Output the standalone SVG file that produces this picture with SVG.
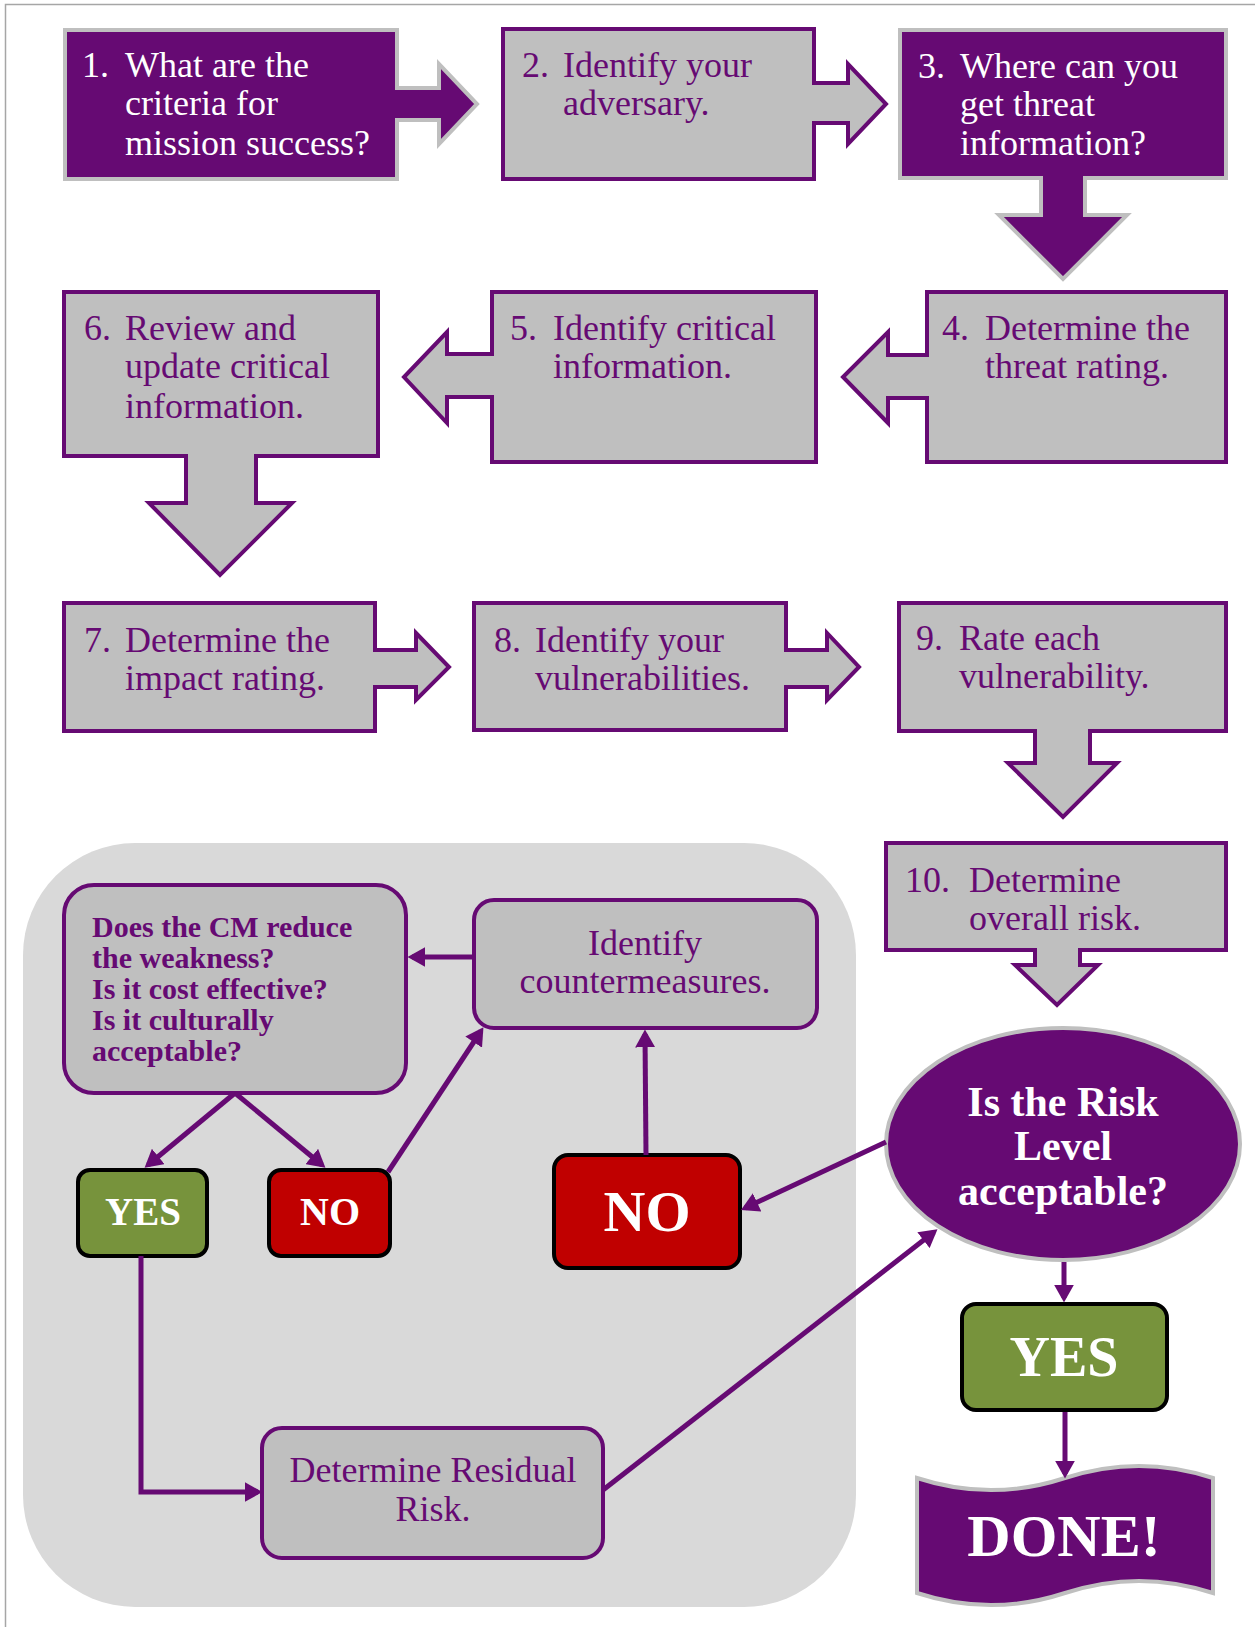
<svg xmlns="http://www.w3.org/2000/svg" width="1255" height="1627" viewBox="0 0 1255 1627">
<defs>
<marker id="ah" markerUnits="userSpaceOnUse" markerWidth="18" markerHeight="20" viewBox="0 0 16 18" refX="12" refY="9" orient="auto">
<path d="M0,0 L16,9 L0,18 Z" fill="#660A73"/>
</marker>
<style>
.pd{fill:#660A73;stroke:#BFBFBF;stroke-width:4;stroke-linejoin:miter}
.gy{fill:#BFBFBF;stroke:#660A73;stroke-width:4;stroke-linejoin:miter}
.rb{fill:#BFBFBF;stroke:#660A73;stroke-width:4}
.yes{fill:#77933C;stroke:#000;stroke-width:4}
.no{fill:#C00000;stroke:#000;stroke-width:4}
.tw{font-family:"Liberation Serif",serif;font-size:36px;fill:#FFFFFF}
.tp{font-family:"Liberation Serif",serif;font-size:36px;fill:#660A73}
.tb{font-family:"Liberation Serif",serif;font-size:30px;font-weight:bold;fill:#660A73}
.bw{font-family:"Liberation Serif",serif;font-weight:bold;fill:#FFFFFF;text-anchor:middle}
.c{text-anchor:middle}
.ln{fill:none;stroke:#660A73;stroke-width:5;marker-end:url(#ah)}
</style>
</defs>
<rect x="0" y="0" width="1255" height="1627" fill="#FFFFFF"/>
<rect x="5.5" y="4.5" width="1262" height="1640" fill="none" stroke="#A6A6A6" stroke-width="1.5"/>

<g id="loop-bg">
<rect x="23" y="843" width="833" height="764" rx="112" ry="112" fill="#D9D9D9"/>
</g>

<g id="step1">
<path class="pd" d="M65,30 H397 V88 H439 V64 L477,104 L439,144 V120 H397 V179 H65 Z"/>
<text class="tw" x="82" y="77">1.</text>
<text class="tw" x="125" y="77">What are the</text>
<text class="tw" x="125" y="115">criteria for</text>
<text class="tw" x="125" y="155">mission success?</text>
</g>

<g id="step2">
<path class="gy" d="M503,29 H814 V83 H848 V64 L886,104 L848,144 V123 H814 V179 H503 Z"/>
<text class="tp" x="522" y="77">2.</text>
<text class="tp" x="563" y="77">Identify your</text>
<text class="tp" x="563" y="115">adversary.</text>
</g>

<g id="step3">
<path class="pd" d="M900,30 H1226 V178 H1085 V215 H1127 L1063,279 L999,215 H1041 V178 H900 Z"/>
<text class="tw" x="918" y="78">3.</text>
<text class="tw" x="960" y="78">Where can you</text>
<text class="tw" x="960" y="116">get threat</text>
<text class="tw" x="960" y="155">information?</text>
</g>

<g id="step4">
<path class="gy" d="M927,292 H1226 V462 H927 V398 H888 V423 L843,377 L888,332 V355 H927 Z"/>
<text class="tp" x="942" y="340">4.</text>
<text class="tp" x="985" y="340">Determine the</text>
<text class="tp" x="985" y="378">threat rating.</text>
</g>

<g id="step5">
<path class="gy" d="M492,292 H816 V462 H492 V397 H447 V423 L404,377 L447,332 V354 H492 Z"/>
<text class="tp" x="510" y="340">5.</text>
<text class="tp" x="553" y="340">Identify critical</text>
<text class="tp" x="553" y="378">information.</text>
</g>

<g id="step6">
<path class="gy" d="M64,292 H378 V456 H256 V503 H292 L220,575 L149,503 H186 V456 H64 Z"/>
<text class="tp" x="84" y="340">6.</text>
<text class="tp" x="125" y="340">Review and</text>
<text class="tp" x="125" y="378">update critical</text>
<text class="tp" x="125" y="418">information.</text>
</g>

<g id="step7">
<path class="gy" d="M64,603 H375 V650 H416 V633 L449,667 L416,700 V687 H375 V731 H64 Z"/>
<text class="tp" x="84" y="652">7.</text>
<text class="tp" x="125" y="652">Determine the</text>
<text class="tp" x="125" y="690">impact rating.</text>
</g>

<g id="step8">
<path class="gy" d="M474,603 H786 V650 H827 V633 L859,667 L827,700 V687 H786 V730 H474 Z"/>
<text class="tp" x="494" y="652">8.</text>
<text class="tp" x="535" y="652">Identify your</text>
<text class="tp" x="535" y="690">vulnerabilities.</text>
</g>

<g id="step9">
<path class="gy" d="M899,603 H1226 V731 H1090 V763 H1117 L1063,817 L1008,763 H1035 V731 H899 Z"/>
<text class="tp" x="916" y="650">9.</text>
<text class="tp" x="959" y="650">Rate each</text>
<text class="tp" x="959" y="688">vulnerability.</text>
</g>

<g id="step10">
<path class="gy" d="M886,843 H1226 V950 H1080 V965 H1098 L1057,1005 L1015,965 H1035 V950 H886 Z"/>
<text class="tp" x="905" y="892">10.</text>
<text class="tp" x="969" y="892">Determine</text>
<text class="tp" x="969" y="930">overall risk.</text>
</g>

<g id="cm-question">
<rect class="rb" x="64" y="885" width="342" height="208" rx="30" ry="30"/>
<text class="tb" x="92" y="937">Does the CM reduce</text>
<text class="tb" x="92" y="968">the weakness?</text>
<text class="tb" x="92" y="999">Is it cost effective?</text>
<text class="tb" x="92" y="1030">Is it culturally</text>
<text class="tb" x="92" y="1061">acceptable?</text>
</g>

<g id="identify-cm">
<rect class="rb" x="474" y="900" width="343" height="128" rx="20" ry="20"/>
<text class="tp c" x="645" y="955">Identify</text>
<text class="tp c" x="645" y="993">countermeasures.</text>
</g>

<g id="cm-yes">
<rect class="yes" x="78" y="1170" width="129" height="86" rx="12" ry="12"/>
<text class="bw" x="143" y="1225" font-size="39">YES</text>
</g>

<g id="cm-no">
<rect class="no" x="269" y="1170" width="121" height="86" rx="12" ry="12"/>
<text class="bw" x="330" y="1225" font-size="40">NO</text>
</g>

<g id="risk-no">
<rect class="no" x="554" y="1155" width="186" height="113" rx="14" ry="14"/>
<text class="bw" x="647" y="1231" font-size="58">NO</text>
</g>

<g id="residual">
<rect class="rb" x="262" y="1428" width="341" height="130" rx="20" ry="20"/>
<text class="tp c" x="433" y="1482">Determine Residual</text>
<text class="tp c" x="433" y="1521">Risk.</text>
</g>

<g id="risk-question">
<ellipse cx="1063" cy="1144" rx="177" ry="116" fill="#660A73" stroke="#BFBFBF" stroke-width="4"/>
<text class="bw" x="1063" y="1116" font-size="42">Is the Risk</text>
<text class="bw" x="1063" y="1160" font-size="42">Level</text>
<text class="bw" x="1063" y="1205" font-size="42">acceptable?</text>
</g>

<g id="risk-yes">
<rect class="yes" x="962" y="1304" width="205" height="106" rx="14" ry="14"/>
<text class="bw" x="1064" y="1376" font-size="56">YES</text>
</g>

<g id="done">
<path class="pd" d="M917,1478 C966,1494 1016,1494 1065,1478 C1114,1462 1164,1462 1213,1478 V1593 C1164,1577 1114,1577 1065,1593 C1016,1609 966,1609 917,1593 Z"/>
<text class="bw" x="1064" y="1556" font-size="60">DONE!</text>
</g>

<g id="connectors">
<line class="ln" x1="474" y1="957" x2="412" y2="957"/>
<line class="ln" x1="235" y1="1093" x2="148" y2="1165"/>
<line class="ln" x1="235" y1="1093" x2="322" y2="1165"/>
<line class="ln" x1="388" y1="1172" x2="481" y2="1031"/>
<line class="ln" x1="646" y1="1155" x2="645" y2="1034"/>
<line class="ln" x1="886" y1="1142" x2="745" y2="1208"/>
<line class="ln" x1="1064" y1="1262" x2="1064" y2="1298"/>
<line class="ln" x1="1065" y1="1412" x2="1065" y2="1474"/>
<line class="ln" x1="603" y1="1490" x2="934" y2="1232"/>
<polyline class="ln" points="141,1256 141,1492 258,1492"/>
</g>
</svg>
